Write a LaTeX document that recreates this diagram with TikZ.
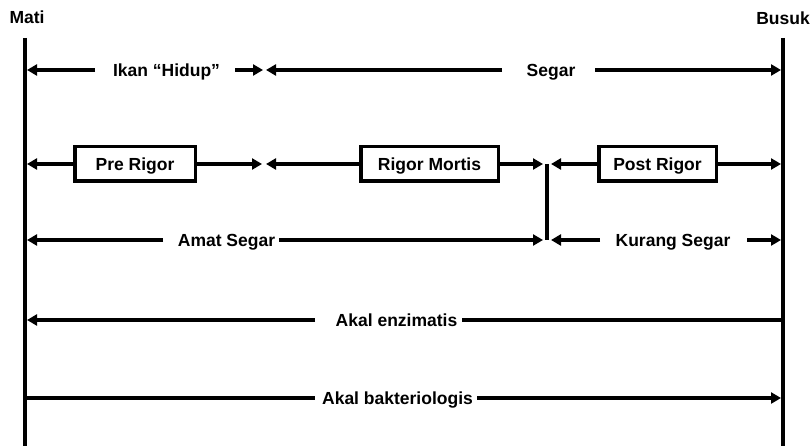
\documentclass[tikz,border=0pt]{standalone}
\usepackage{fontspec}
\setmainfont{Liberation Sans}
\usetikzlibrary{arrows.meta}
\begin{document}
\begin{tikzpicture}[x=1pt,y=-1pt,
  lbl/.style={font=\bfseries\fontsize{17.5}{20}\selectfont, inner sep=0pt, text height=12.6pt, text depth=0pt},
  stagebox/.style={draw, line width=3.5pt, font=\bfseries\fontsize{17.5}{20}\selectfont, minimum height=34.5pt, inner sep=0pt, text height=12.6pt, text depth=0pt},
  axis/.style={line width=4.2pt},
  conn/.style={line width=4.2pt, -{Triangle[length=10pt,width=11pt]}},
  thin/.style={line width=3.2pt}
]
\useasboundingbox (0,0) rectangle (810,446);
% titles
\node[lbl] (mati) at (27,17) {Mati};
\node[lbl, anchor=east] (busuk) at (810,18) {Busuk};
% time axes
\coordinate (Ltop) at (25,38); \coordinate (Lbot) at (25,446);
\coordinate (Rtop) at (783,38); \coordinate (Rbot) at (783,446);
\draw[axis] (Ltop) -- (Lbot);
\draw[axis] (Rtop) -- (Rbot);

% Row 1
\coordinate (r1L) at (27,70); \coordinate (r1a) at (95,70);
\coordinate (r1b) at (235,70); \coordinate (r1c) at (263,70);
\coordinate (r1d) at (266,70); \coordinate (r1e) at (502,70);
\coordinate (r1f) at (595,70); \coordinate (r1R) at (781,70);
\node[lbl] (hidup) at (166.5,70) {Ikan “Hidup”};
\node[lbl] (segar) at (551,70) {Segar};
\draw[conn] (r1a) -- (r1L);
\draw[conn] (r1b) -- (r1c);
\draw[conn] (r1e) -- (r1d);
\draw[conn] (r1f) -- (r1R);

% Row 2
\node[stagebox, minimum width=120.5pt] (pre) at (135,164) {Pre Rigor};
\node[stagebox, minimum width=137.5pt] (rigor) at (429.5,164) {Rigor Mortis};
\node[stagebox, minimum width=117.5pt] (post) at (657.5,164) {Post Rigor};
\coordinate (r2L) at (27,164); \coordinate (r2c) at (262,164);
\coordinate (r2d) at (266,164); \coordinate (r2e) at (543,164);
\coordinate (r2f) at (551,164); \coordinate (r2R) at (781,164);
\draw[conn] (pre.west) -- (r2L);
\draw[conn] (pre.east) -- (r2c);
\draw[conn] (rigor.west) -- (r2d);
\draw[conn] (rigor.east) -- (r2e);
\draw[conn] (post.west) -- (r2f);
\draw[conn] (post.east) -- (r2R);
\coordinate (J1) at (547,164); \coordinate (J2) at (547,240);
\draw[line width=3.5pt] (J1) -- (J2);

% Row 3
\coordinate (r3L) at (27,240); \coordinate (r3a) at (163,240);
\coordinate (r3b) at (279,240); \coordinate (r3c) at (543,240);
\coordinate (r3d) at (551,240); \coordinate (r3e) at (600,240);
\coordinate (r3f) at (747,240); \coordinate (r3R) at (781,240);
\node[lbl] (amat) at (226.5,240) {Amat Segar};
\node[lbl] (kurang) at (673,240) {Kurang Segar};
\draw[conn] (r3a) -- (r3L);
\draw[conn] (r3b) -- (r3c);
\draw[conn] (r3e) -- (r3d);
\draw[conn] (r3f) -- (r3R);

% Row 4
\coordinate (r4L) at (27,320); \coordinate (r4a) at (315,320);
\coordinate (r4b) at (462,320); \coordinate (r4R) at (783,320);
\node[lbl] (enzim) at (396.5,320) {Akal enzimatis};
\draw[conn] (r4a) -- (r4L);
\draw[thin] (r4b) -- (r4R);

% Row 5
\coordinate (r5L) at (25,398); \coordinate (r5a) at (315,398);
\coordinate (r5b) at (477,398); \coordinate (r5R) at (781,398);
\node[lbl] (bakteri) at (397.5,398) {Akal bakteriologis};
\draw[thin] (r5L) -- (r5a);
\draw[conn] (r5b) -- (r5R);
\end{tikzpicture}
\end{document}
